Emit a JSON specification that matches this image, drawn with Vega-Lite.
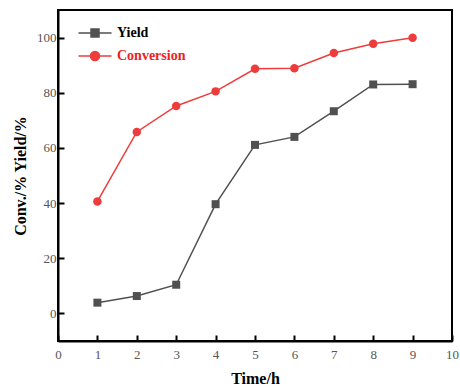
{
  "$schema": "https://vega.github.io/schema/vega-lite/v6.json",
  "width": 394,
  "height": 331,
  "autosize": "none",
  "padding": {"left": 58, "top": 10, "right": 8, "bottom": 48},
  "background": "white",
  "config": {
    "view": {"stroke": "black", "strokeWidth": 2},
    "font": "Liberation Serif"
  },
  "data": {
    "values": [
      {"time": 1, "value": 3.9, "series": "Yield"},
      {"time": 2, "value": 6.3, "series": "Yield"},
      {"time": 3, "value": 10.4, "series": "Yield"},
      {"time": 4, "value": 39.6, "series": "Yield"},
      {"time": 5, "value": 61.1, "series": "Yield"},
      {"time": 6, "value": 64.0, "series": "Yield"},
      {"time": 7, "value": 73.3, "series": "Yield"},
      {"time": 8, "value": 83.0, "series": "Yield"},
      {"time": 9, "value": 83.1, "series": "Yield"},
      {"time": 1, "value": 40.6, "series": "Conversion"},
      {"time": 2, "value": 65.8, "series": "Conversion"},
      {"time": 3, "value": 75.2, "series": "Conversion"},
      {"time": 4, "value": 80.5, "series": "Conversion"},
      {"time": 5, "value": 88.7, "series": "Conversion"},
      {"time": 6, "value": 88.9, "series": "Conversion"},
      {"time": 7, "value": 94.4, "series": "Conversion"},
      {"time": 8, "value": 97.8, "series": "Conversion"},
      {"time": 9, "value": 99.9, "series": "Conversion"}
    ]
  },
  "encoding": {
    "x": {
      "field": "time", "type": "quantitative",
      "scale": {"domain": [0, 10], "nice": false, "zero": false},
      "axis": {
        "title": "Time/h", "values": [0,1,2,3,4,5,6,7,8,9,10], "grid": false, "labelFlush": false, "zindex": 1,
        "domainColor": "black", "domainWidth": 2, "ticks": true, "tickColor": "black", "tickWidth": 2, "tickSize": -6, "tickOpacity": 1,
        "labelFont": "Liberation Serif", "labelFontSize": 13, "labelColor": "#555555", "labelPadding": 13,
        "titleFont": "Liberation Serif", "titleFontSize": 16, "titleFontWeight": "bold", "titleColor": "black", "titlePadding": 9
      }
    },
    "y": {
      "field": "value", "type": "quantitative",
      "scale": {"domain": [-10, 110], "nice": false, "zero": false},
      "axis": {
        "title": "Conv./% Yield/%", "values": [0,20,40,60,80,100], "grid": false, "labelFlush": false, "zindex": 1,
        "domainColor": "black", "domainWidth": 2, "ticks": true, "tickColor": "black", "tickWidth": 2, "tickSize": -6, "tickOpacity": 1,
        "labelFont": "Liberation Serif", "labelFontSize": 13, "labelColor": "#555555", "labelPadding": 8,
        "titleFont": "Liberation Serif", "titleFontSize": 16, "titleFontWeight": "bold", "titleColor": "black", "titlePadding": 8
      }
    }
  },
  "layer": [
    {
      "mark": {"type": "line", "strokeWidth": 1.5},
      "encoding": {
        "color": {
          "field": "series", "type": "nominal",
          "scale": {"domain": ["Yield", "Conversion"], "range": ["#505050", "#ee3c3c"]},
          "legend": {
            "title": null, "orient": "none", "legendX": 30, "legendY": 16,
            "symbolType": {"expr": "datum.value == 'Yield' ? 'M-3.3,0H3.3M-0.8,-0.8H0.8V0.8H-0.8Z' : 'M-3.3,0H3.3M0.9,0A0.9,0.9,0,1,1,-0.9,0A0.9,0.9,0,1,1,0.9,0Z'"},
            "symbolSize": 100, "symbolStrokeWidth": 1.5,
            "symbolFillColor": {"expr": "datum.value == 'Yield' ? '#505050' : '#ee3c3c'"},
            "labelFont": "Liberation Serif", "labelFontSize": 14, "labelFontWeight": "bold",
            "labelColor": {"expr": "datum.value == 'Yield' ? 'black' : '#ee2222'"},
            "rowPadding": 8, "labelOffset": 15
          }
        }
      }
    },
    {
      "transform": [{"filter": "datum.series == 'Yield'"}],
      "mark": {"type": "point", "filled": true, "opacity": 1, "size": 64, "shape": "square", "color": "#505050"}
    },
    {
      "transform": [{"filter": "datum.series == 'Conversion'"}],
      "mark": {"type": "point", "filled": true, "opacity": 1, "size": 72, "shape": "circle", "color": "#ee3c3c"}
    }
  ]
}
